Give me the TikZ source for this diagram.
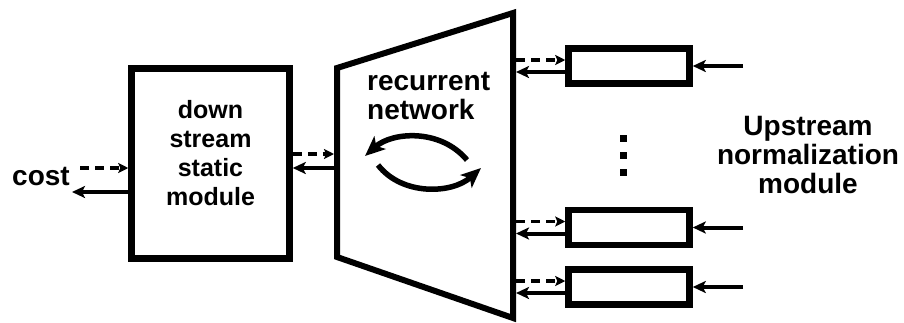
\documentclass[tikz,border=0pt]{standalone}
\usepackage{fontspec}
\setmainfont{Liberation Sans}
\usetikzlibrary{arrows.meta,positioning}
\tikzset{
 blk/.style={draw,line width=6.5pt,inner sep=0pt},
 solidarr/.style={-{Stealth[length=13pt,width=12pt,inset=3pt]},line width=4pt},
 dasharr/.style={-{Stealth[length=10pt,width=10pt,inset=2pt]},line width=3.5pt,dash pattern=on 9pt off 6pt},
 looparr/.style={-{Stealth[length=20pt,width=17pt,inset=5pt]},line width=5.5pt},
}

\begin{document}
\begin{tikzpicture}[x=1pt,y=-1pt,font=\bfseries\fontsize{28}{29}\selectfont]
\useasboundingbox (0,0) rectangle (904,322);
% down stream static module
\node[blk,minimum width=158pt,minimum height=190pt] (down) at (210.5,163.5) {};
\node[anchor=north,align=center,inner sep=0pt,font=\bfseries\fontsize{25}{29}\selectfont] (downtxt) at (210.5,100) {down\\stream\\static\\module};
\node[anchor=base west,inner sep=0pt] (cost) at (12,185) {cost};
\coordinate (costin) at (80,168);
\coordinate (costout) at (72,192);
\draw[dasharr] (costin) -- (costin -| down.west);
\draw[solidarr] (costout -| down.west) -- (costout);
% recurrent network
\coordinate (tl) at (337,68);\coordinate (tr) at (513,13);
\coordinate (br) at (513,318);\coordinate (bl) at (337,257);
\draw[line width=6pt] (tl) -- (tr) -- (br) -- (bl) -- cycle;
\node[anchor=north west,align=left,inner sep=0pt] (rnntxt) at (367,72) {recurrent\\network};
\draw[looparr] (467,160) .. controls (440,128) and (392,132) .. (365,156);
\draw[looparr] (378,165) .. controls (402,196) and (452,194) .. (481,168);
\coordinate (dup) at ([yshift=9.5pt]down.east);
\coordinate (ddn) at ([yshift=-4.5pt]down.east);
\draw[dasharr,shorten >=3pt] (dup) -- (dup -| tl);
\draw[solidarr,shorten <=3pt] (ddn -| tl) -- (ddn);
% upstream normalization modules
\foreach \n/\y in {1/66,2/227.5,3/287} {
 \node[blk,minimum width=121pt,minimum height=35pt] (norm\n) at (629,\y) {};
 \coordinate (feed\n) at (743,\y);
 \coordinate (up\n) at ([yshift=6pt]norm\n.west);
 \coordinate (dn\n) at ([yshift=-6pt]norm\n.west);
 \draw[solidarr] (feed\n) -- (norm\n.east);
 \draw[dasharr,shorten <=3pt] (up\n -| tr) -- (up\n);
 \draw[solidarr,shorten >=3pt] (dn\n) -- (dn\n -| tr);
}
\foreach \i/\y in {1/138,2/155,3/172}
 \node[fill,minimum size=7pt,inner sep=0pt] (dot\i) at (623,\y) {};
\node[anchor=north,align=center,inner sep=0pt] (upstream) at (808,116) {Upstream\\normalization\\module};
\end{tikzpicture}
\end{document}
